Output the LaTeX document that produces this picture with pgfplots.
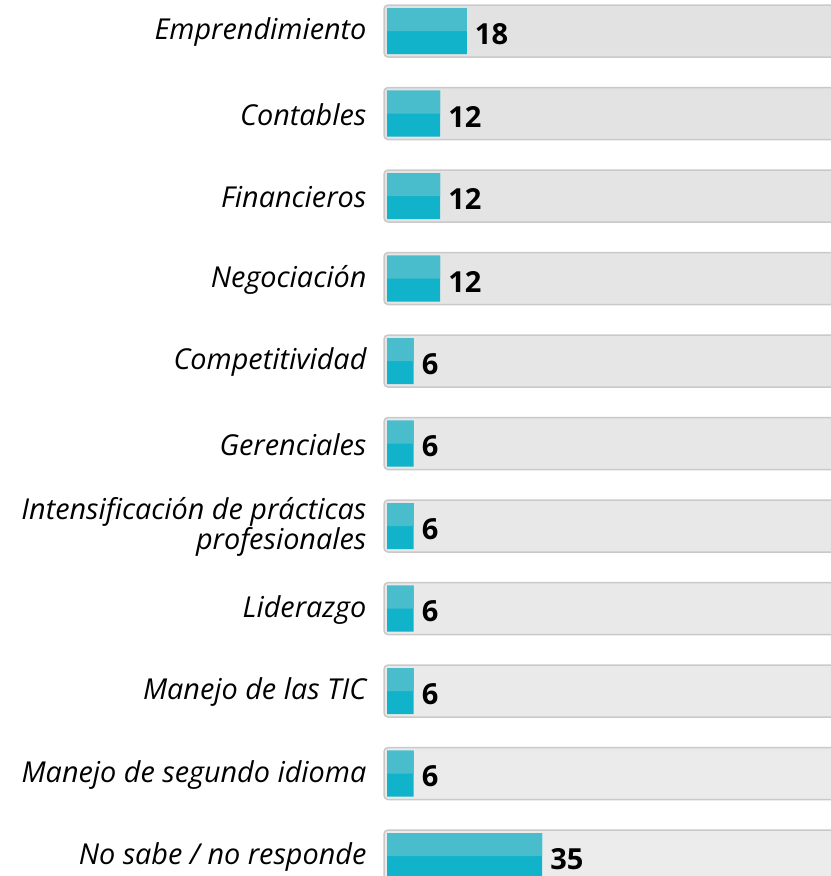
\documentclass[border=0pt]{standalone}
\usepackage{fontspec}
\setmainfont{Open Sans}
\usepackage{pgfplots}
\pgfplotsset{compat=1.18}
\definecolor{trackedge}{HTML}{C9C9C9}
\definecolor{tracktop}{HTML}{E3E2E3}
\definecolor{trackbot}{HTML}{EDECED}
\definecolor{barlight}{HTML}{4ABDCC}
\definecolor{bardark}{HTML}{10B3C9}

\begin{document}
\begin{tikzpicture}
\begin{axis}[
  x=4.43pt, y=82.5pt,
  xmin=-1, xmax=100.2,
  ymin=-0.376, ymax=10.242,
  y dir=reverse,
  axis line style={draw=none},
  xtick=\empty,
  ytick={0,...,10},
  yticklabels={Emprendimiento, Contables, Financieros, Negociación, Competitividad,
    Gerenciales, {Intensificación de prácticas\\profesionales}, Liderazgo,
    Manejo de las TIC, Manejo de segundo idioma, No sabe / no responde},
  ytick style={draw=none},
  yticklabel style={font=\fontsize{28.8}{27}\selectfont\itshape, align=right,
    inner sep=0pt, xshift=-16pt, yshift=-1pt},
  /pgf/number format/assume math mode=true,
  clip=true,
]
% gray tracks
\addplot[xbar, bar width=52pt, bar shift=0pt, xshift=-3pt, draw=trackedge,
  line width=1.5pt, top color=tracktop, bottom color=trackbot,
  rounded corners=4pt] coordinates {
  (110,0) (110,1) (110,2) (110,3) (110,4) (110,5)
  (110,6) (110,7) (110,8) (110,9) (110,10)
};
% bars (dark lower half + labels)
\addplot[xbar, bar width=46pt, bar shift=0pt, fill=bardark, draw=none,
  nodes near coords,
  nodes near coords style={font=\fontsize{29}{30}\selectfont\bfseries,
    anchor=west, inner sep=0pt, xshift=8pt, yshift=-3pt}] coordinates {
  (18,0) (12,1) (12,2) (12,3) (6,4) (6,5)
  (6,6) (6,7) (6,8) (6,9) (35,10)
};
% light upper half
\addplot[xbar, bar width=23pt, bar shift=11.5pt, fill=barlight, draw=none] coordinates {
  (18,0) (12,1) (12,2) (12,3) (6,4) (6,5)
  (6,6) (6,7) (6,8) (6,9) (35,10)
};
\coordinate (A) at (rel axis cs:0,0);
\coordinate (B) at (rel axis cs:1,1);
\end{axis}
\pgfresetboundingbox
\path[use as bounding box] ([xshift=-382.6pt]A) rectangle (B);
\end{tikzpicture}
\end{document}
